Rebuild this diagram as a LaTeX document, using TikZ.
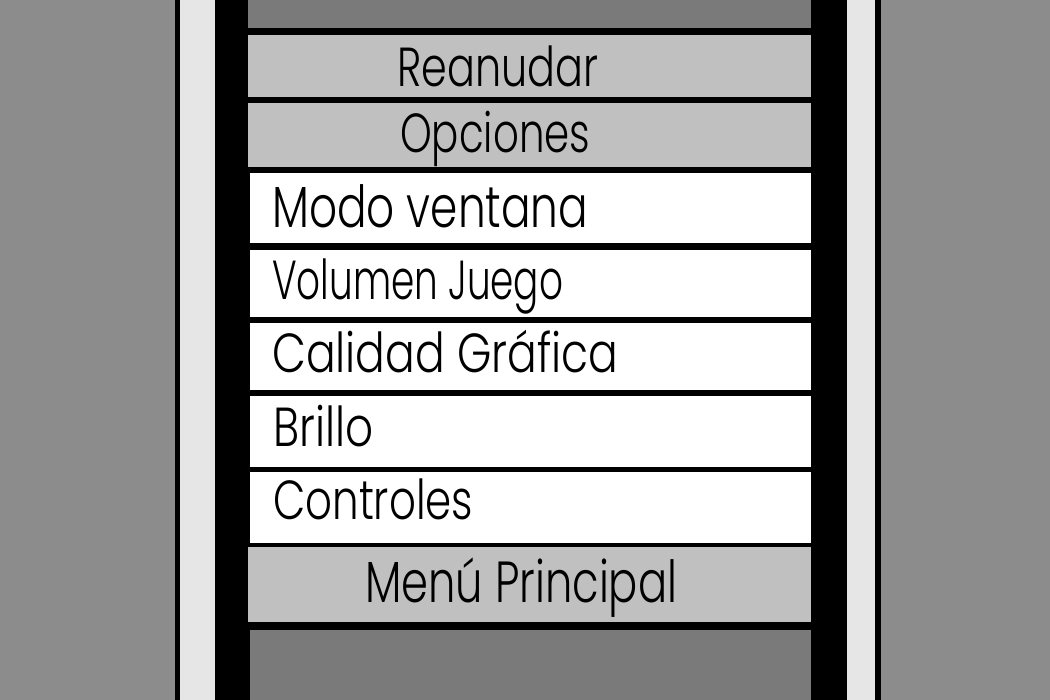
\documentclass[tikz,border=0pt]{standalone}
\usepackage{fontspec}
\setmainfont{Poppins Light}
\usepackage{graphicx}
\definecolor{bggray}{HTML}{8C8C8C}
\definecolor{darkgray}{HTML}{7A7A7A}
\definecolor{stripe}{HTML}{E6E6E6}
\definecolor{btngray}{HTML}{C0C0C0}
\newcommand\fitw[2]{\resizebox{#1}{\height}{#2}}
\tikzset{
  lbl/.style={inner sep=0pt, anchor=base west, text=black, font=\fontsize{55}{60}\selectfont},
  btnfill/.style={fill=btngray},
  rowfill/.style={fill=white}
}
\begin{document}
\begin{tikzpicture}[x=1pt,y=-1pt]
\useasboundingbox (0,0) rectangle (1050,700);
\fill[bggray] (0,0) rectangle (1050,700);
\fill[black] (175,0) rectangle (881,700);
\fill[stripe] (180,0) rectangle (215,700);
\fill[stripe] (847,0) rectangle (875,700);
% top and bottom dark areas
\fill[darkgray] (248,0) rectangle (811,28);
\fill[darkgray] (250,630) rectangle (811,700);
% buttons
\fill[btnfill] (248,35) rectangle (811,97);
\fill[btnfill] (248,103) rectangle (811,167);
\fill[rowfill] (250,173) rectangle (811,243);
\fill[rowfill] (250,250) rectangle (811,317);
\fill[rowfill] (250,323) rectangle (811,390);
\fill[rowfill] (250,396) rectangle (811,467);
\fill[rowfill] (250,472) rectangle (811,543);
\fill[btnfill] (248,547) rectangle (811,622);
% labels
\node[lbl] (reanudar) at (397,87) {\fitw{201pt}{Reanudar}};
\node[lbl] (opciones) at (400,153) {\fitw{190pt}{Opciones}};
\node[lbl, font=\fontsize{58}{62}\selectfont] (modo) at (272,228) {\fitw{316pt}{Modo ventana}};
\node[lbl] (volumen) at (272,300) {\fitw{291pt}{Volumen Juego}};
\node[lbl] (calidad) at (272,373) {\fitw{346pt}{Calidad Gráfica}};
\node[lbl] (brillo) at (273,447) {\fitw{100pt}{Brillo}};
\node[lbl] (controles) at (273,520) {\fitw{200pt}{Controles}};
\node[lbl, font=\fontsize{58}{62}\selectfont] (menu) at (365,602) {\fitw{312pt}{Menú Principal}};
\end{tikzpicture}
\end{document}
